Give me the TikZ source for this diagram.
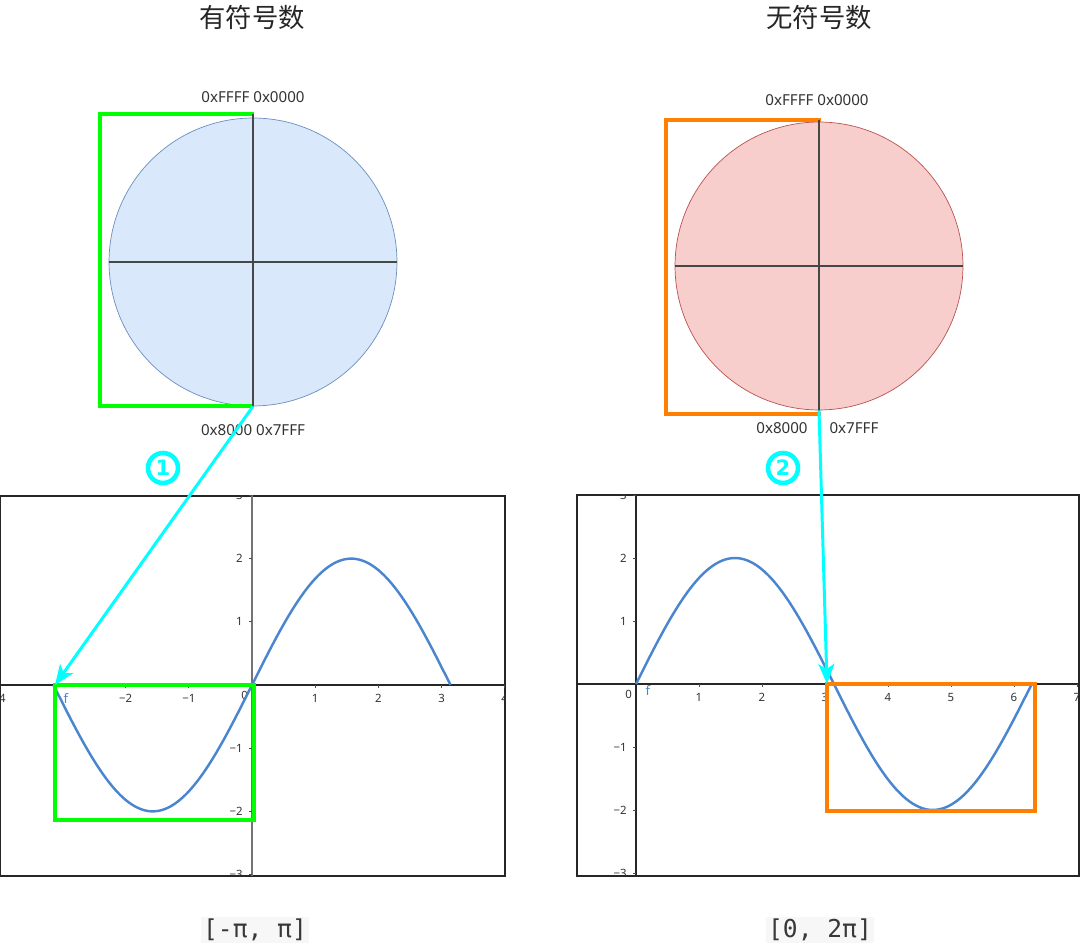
\documentclass[tikz,border=0pt]{standalone}
\usepackage{fontspec}
\setmainfont{Noto Sans}
\newfontfamily\cjk{Noto Sans CJK SC}
\newfontfamily\codefont{DejaVu Sans Mono}
\newfontfamily\markfont{DejaVu Sans}
\usetikzlibrary{arrows.meta}
\definecolor{sigfill}{HTML}{DAE8FC}
\definecolor{sigline}{HTML}{6C8EBF}
\definecolor{unsfill}{HTML}{F8CECC}
\definecolor{unsline}{HTML}{B85450}
\definecolor{boxgreen}{HTML}{00FF00}
\definecolor{boxorange}{HTML}{FF8000}
\definecolor{linkcyan}{HTML}{00FFFF}
\definecolor{curveblue}{HTML}{4A86D0}
\definecolor{labelgray}{HTML}{333333}
\tikzset{
  titletext/.style={font=\cjk\fontsize{15}{18}\selectfont, text=black!85},
  hexlabel/.style={font=\fontsize{8.6}{10}\selectfont, text=labelgray},
  wheel/.style={circle, minimum size=5.76cm, inner sep=0pt},
  crossline/.style={draw=black!72, line width=0.6pt},
  rangebox/.style={line width=2.6pt},
  linkarrow/.style={draw=linkcyan, line width=1.7pt, -{Stealth[length=0.4cm, width=0.32cm, inset=0.1cm]}},
  stepmark/.style={circle, draw=linkcyan, line width=2.6pt, text=linkcyan,
    minimum size=0.6cm, inner sep=0pt, font=\markfont\bfseries\fontsize{12}{13}\selectfont},
  plotframe/.style={draw=black!85, line width=0.6pt},
  xaxis/.style={draw=black!85, line width=1.2pt},
  yaxis/.style={draw=black!55, line width=0.9pt},
  ticklabel/.style={font=\fontsize{6.5}{7}\selectfont, text=labelgray},
  sinecurve/.style={draw=curveblue, line width=1.4pt},
  fname/.style={font=\fontsize{7.5}{8}\selectfont, text=curveblue},
  rangetext/.style={font=\codefont\fontsize{14}{16}\selectfont, text=black!78, fill=black!3, inner sep=1pt}
}
\begin{document}
\begin{tikzpicture}[x=0.02cm, y=-0.02cm]
\useasboundingbox (0,0) rectangle (1080,949);
% titles
\path   node[titletext] (T1) at (252,17) {有符号数}
        node[titletext] (T2) at (819,17) {无符号数};
% the two wheels
\path   node[wheel, draw=sigline, fill=sigfill] (C1) at (253,262) {}
        node[wheel, draw=unsline, fill=unsfill] (C2) at (819,266) {};
\draw[rangebox, boxgreen] (254,114) -- (100,114) -- (100,406) -- (254,406);
\draw[rangebox, boxorange] (821,120) -- (666,120) -- (666,414) -- (821,414);
\draw[crossline] (253,114) -- (C1.south);
\draw[crossline] (C1.west) -- (C1.east);
\draw[crossline] (819,120) -- (819,414);
\draw[crossline] (C2.west) -- (C2.east);
\path   node[hexlabel] (H1) at (253,97) {0xFFFF 0x0000}
        node[hexlabel] (H2) at (253,430) {0x8000 0x7FFF}
        node[hexlabel] (H3) at (817,100) {0xFFFF 0x0000}
        node[hexlabel] (H4) at (782,428) {0x8000}
        node[hexlabel] (H5) at (854,428) {0x7FFF};
% left plot, 2 sin x on [-pi, pi]
\draw[plotframe] (0,496) rectangle (505,876);
\begin{scope}
  \clip (0,496) rectangle (505,876);
  \begin{scope}[shift={(252,685)}, x=1.264cm, y=1.264cm]
    \draw[yaxis] (0,-3.2) -- (0,3.2);
    \draw[xaxis] (-4.2,0) -- (4.2,0);
    \foreach \i/\t in {-4/−4,-2/−2,-1/−1,1/1,2/2,3/3,4/4}
      \draw[black!70] (\i,0) -- (\i,-0.05) node[ticklabel, below=0pt] {\t};
    \node[ticklabel, anchor=north east, inner sep=1pt] at (-0.03,-0.06) {0};
    \foreach \i/\t in {-3/−3,-2/−2,-1/−1,1/1,2/2,3/3}
      \draw[black!70] (0,\i) -- (-0.05,\i) node[ticklabel, left=0pt] {\t};
    \draw[sinecurve] plot[domain=-pi:pi, samples=90, smooth] (\x, {2*sin(\x r)});
  \end{scope}
\end{scope}
\node[fname] (F1) at (66,698) {f};
% right plot, 2 sin x on [0, 2pi]
\draw[plotframe] (577,495) rectangle (1079,876);
\begin{scope}
  \clip (577,495) rectangle (1079,876);
  \begin{scope}[shift={(636,684)}, x=1.26cm, y=1.26cm]
    \draw[yaxis, black!85, line width=0.6pt] (0,-3.2) -- (0,3.2);
    \draw[xaxis] (-1.2,0) -- (7.2,0);
    \foreach \i/\t in {-1/−1,1/1,2/2,3/3,4/4,5/5,6/6,7/7}
      \draw[black!70] (\i,0) -- (\i,-0.05) node[ticklabel, below=0pt] {\t};
    \node[ticklabel, anchor=north east, inner sep=1pt] at (-0.03,-0.06) {0};
    \foreach \i/\t in {-3/−3,-2/−2,-1/−1,1/1,2/2,3/3}
      \draw[black!70] (0,\i) -- (-0.05,\i) node[ticklabel, left=0pt] {\t};
    \draw[sinecurve] plot[domain=0:2*pi, samples=90, smooth] (\x, {2*sin(\x r)});
  \end{scope}
\end{scope}
\node[fname] (F2) at (648,690) {f};
\draw[rangebox, boxgreen] (55,685) rectangle (254,820);
\draw[rangebox, boxorange] (827,684) rectangle (1035,811);
% links from the wheels to the plots
\coordinate (P1) at (55,685);
\coordinate (P2) at (827,684);
\draw[linkarrow] (C1.south) -- (P1);
\draw[linkarrow] (C2.south) -- (P2);
\path   node[stepmark] (S1) at (163,468) {1}
        node[stepmark] (S2) at (783,468) {2};
% ranges
\path   node[rangetext] (R1) at (255,930) {[-π, π]}
        node[rangetext] (R2) at (820,930) {[0, 2π]};
\end{tikzpicture}
\end{document}
